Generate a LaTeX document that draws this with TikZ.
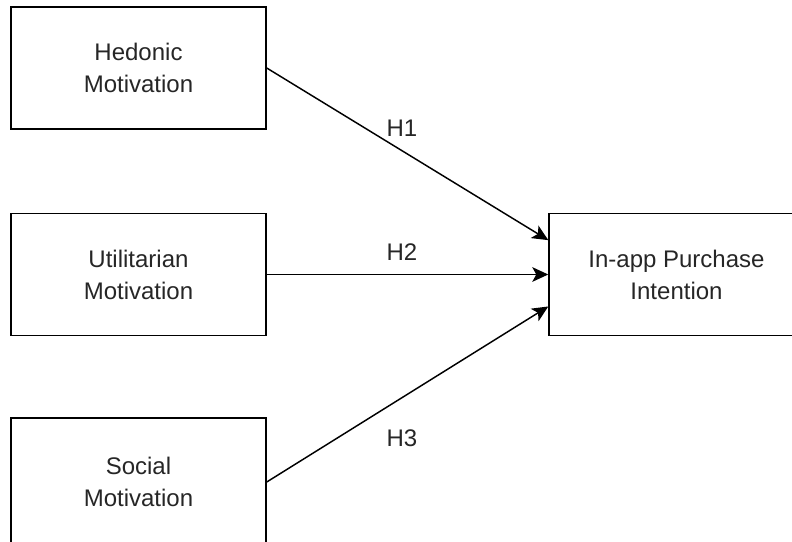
\documentclass[tikz,border=0pt]{standalone}
\usepackage{fontspec}
\setmainfont{Liberation Sans}
\usetikzlibrary{arrows.meta}

\begin{document}
\begin{tikzpicture}[x=0.75pt, y=-0.75pt,
		box/.style={draw, line width=1.1pt, minimum width=191.25pt, minimum height=91.5pt, inner sep=0pt, align=center, text=black!85, font=\fontsize{18}{24}\selectfont},
		hyp/.style={line width=1.1pt, -{Stealth[length=12pt, width=11pt, inset=3pt]}},
		hlabel/.style={text=black!85, font=\fontsize{18}{24}\selectfont}]
			\useasboundingbox (0,0) rectangle (792,542);
			\clip (0,0) rectangle (792,542);
			
			\node [box] (hedonic) at (138.5,68) {Hedonic\\Motivation};
			\node [box] (utilitarian) at (138.5,274.5) {Utilitarian\\Motivation};
			\node [box, minimum height=96pt] (social) at (138.5,482) {Social\\Motivation};
			\node [box] (intention) at (676.5,274.5) {In-app Purchase\\Intention};
			
			\draw [hyp] (hedonic.east) -- (intention.165.7);
			\draw [hyp] (utilitarian.east) -- (intention.west);
			\draw [hyp] (social.east) -- (intention.194.3);
			
			\node [hlabel] (h1) at (402,128) {H1};
			\node [hlabel] (h2) at (402,252) {H2};
			\node [hlabel] (h3) at (402,438) {H3};
			
		\end{tikzpicture}
\end{document}
